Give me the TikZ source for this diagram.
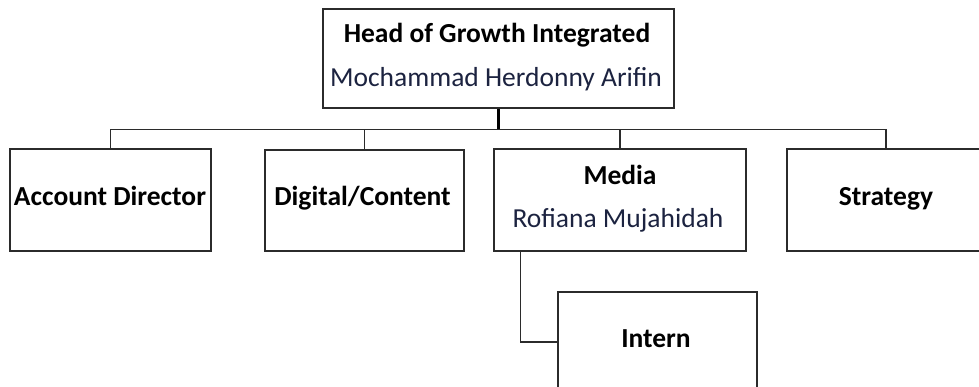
\documentclass[tikz,border=0pt]{standalone}
\usepackage{fontspec}
\setmainfont{Carlito}
\usetikzlibrary{calc}
\definecolor{linec}{HTML}{2B2B2B}
\definecolor{namec}{HTML}{1C2340}
\tikzset{
  orgbox/.style={draw=linec, line width=1.3pt, fill=white, inner sep=0pt},
  title/.style={anchor=base, inner sep=0pt, font=\fontsize{27.5}{33}\selectfont\bfseries, text=black},
  person/.style={anchor=base, inner sep=0pt, font=\fontsize{27.5}{33}\selectfont, text=namec},
  conn/.style={draw=linec, line width=1.3pt},
  busline/.style={draw=black, line width=2.2pt},
}
\begin{document}
\begin{tikzpicture}[x=1pt,y=1pt]
\useasboundingbox (0,0) rectangle (979,387);
\clip (0,0) rectangle (979,387);
\fill[white] (0,0) rectangle (979,387);
% boxes (y measured from top: y_tikz = 387 - y_px)
\node[orgbox, minimum width=351, minimum height=99] (top) at (498.5,328.5) {};
\node[orgbox, minimum width=201, minimum height=102] (acc) at (110.5,187) {};
\node[orgbox, minimum width=199, minimum height=101] (dig) at (364.5,186.5) {};
\node[orgbox, minimum width=252, minimum height=102] (media) at (620,187) {};
\node[orgbox, minimum width=198, minimum height=102] (strat) at (886,187) {};
\node[orgbox, minimum width=199, minimum height=100] (intern) at (657.5,45) {};
% texts
\node[title]  (toptitle) at (497,344) {Head of Growth Integrated};
\node[person] (topname)  at (496,300) {Mochammad Herdonny Arifin};
\node[title]  (acctitle) at (110,181) {Account Director};
\node[title]  (digtitle) at (362.5,181) {Digital/Content};
\node[title]  (medtitle) at (620,202) {Media};
\node[person] (medname)  at (618,159) {Rofiana Mujahidah};
\node[title]  (strtitle) at (886,181) {Strategy};
\node[title]  (inttitle) at (656,39) {Intern};
% connectors
\draw[busline] (top.south) -- ++(0,-21) coordinate (bus);
\draw[conn, line width=1.6pt] (acc.north) |- (bus);
\draw[conn, line width=1.6pt] (bus) -| (strat.north);
\draw[conn] (dig.north) -- (dig.north |- bus);
\draw[conn] (media.north) -- (media.north |- bus);
\coordinate (mtap) at ($(media.south west)+(27,0)$);
\draw[conn] (mtap) |- (intern.west);
\end{tikzpicture}
\end{document}
